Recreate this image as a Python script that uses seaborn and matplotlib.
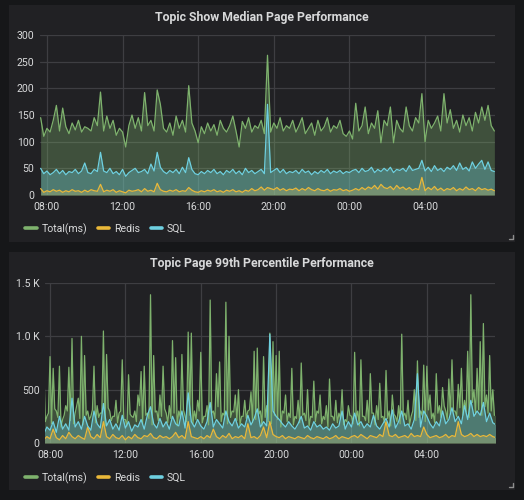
import numpy as np
import pandas as pd
import matplotlib
matplotlib.use("Agg")
import matplotlib.pyplot as plt
import matplotlib.dates as mdates
from matplotlib.patches import Rectangle
from matplotlib.lines import Line2D
import seaborn as sns

# ---------------- data (10-minute samples, 07:40 -> 07:40 next day) ----------------
series_names = ["Total(ms)", "Redis", "SQL"]
series_colors = ["#7eb26d", "#eab839", "#6ed0e0"]

median_total = [
    145, 110, 125, 118, 140, 168, 120, 163, 128, 115,
    135, 122, 140, 118, 128, 125, 120, 145, 130, 193,
    120, 148, 125, 140, 112, 125, 118, 90, 130, 150,
    125, 145, 120, 192, 130, 140, 120, 197, 170, 125,
    118, 135, 112, 148, 125, 140, 118, 205, 135, 120,
    98, 128, 115, 135, 120, 132, 112, 140, 125, 118,
    130, 148, 120, 90, 138, 125, 145, 118, 130, 125,
    140, 115, 262, 118, 135, 125, 145, 120, 130, 125,
    140, 118, 130, 145, 115, 125, 135, 112, 140, 120,
    128, 145, 118, 130, 125, 140, 115, 110, 120, 105,
    172, 120, 130, 165, 115, 135, 125, 158, 98, 140,
    130, 165, 98, 140, 125, 118, 165, 130, 120, 145,
    135, 190, 100, 140, 125, 135, 148, 120, 190, 135,
    160, 125, 140, 118, 150, 130, 145, 120, 155, 135,
    165, 140, 168, 130, 120,
]
median_sql = [
    50, 40, 45, 38, 42, 48, 40, 46, 38, 44,
    42, 48, 40, 45, 60, 42, 40, 48, 44, 80,
    45, 42, 50, 40, 44, 38, 48, 35, 42, 46,
    50, 42, 44, 48, 40, 58, 45, 80, 52, 44,
    40, 46, 42, 48, 40, 52, 42, 70, 48, 40,
    38, 44, 40, 46, 42, 48, 40, 44, 38, 46,
    42, 48, 40, 45, 38, 50, 42, 46, 40, 44,
    48, 40, 170, 42, 46, 50, 42, 48, 40, 44,
    42, 46, 40, 48, 42, 45, 38, 44, 40, 46,
    42, 48, 40, 45, 42, 46, 40, 44, 42, 46,
    48, 42, 50, 44, 46, 52, 42, 48, 44, 50,
    45, 52, 42, 48, 46, 50, 44, 55, 46, 48,
    50, 65, 45, 52, 44, 55, 46, 50, 44, 52,
    48, 55, 46, 60, 48, 52, 45, 62, 50, 58,
    65, 48, 62, 46, 44,
]
median_redis = [
    12, 5, 8, 6, 10, 7, 9, 5, 8, 6,
    10, 7, 8, 5, 9, 6, 10, 8, 7, 20,
    6, 9, 7, 10, 5, 8, 6, 4, 9, 7,
    8, 10, 6, 12, 7, 9, 6, 22, 10, 7,
    6, 9, 7, 10, 6, 8, 7, 14, 9, 6,
    5, 8, 6, 9, 7, 10, 6, 8, 5, 9,
    7, 10, 6, 8, 5, 9, 7, 12, 8, 10,
    15, 9, 14, 12, 10, 14, 9, 12, 8, 11,
    10, 13, 8, 12, 9, 14, 10, 8, 12, 9,
    8, 11, 7, 10, 9, 12, 8, 10, 7, 9,
    12, 9, 14, 10, 15, 12, 18, 11, 20, 14,
    12, 16, 10, 18, 12, 15, 10, 14, 9, 12,
    10, 33, 8, 14, 10, 16, 9, 13, 8, 12,
    10, 14, 8, 12, 9, 15, 10, 12, 8, 14,
    10, 12, 9, 11, 8,
]

# 99th percentile total: on-the-10-minute readings ...
p99_total = [
    730, 250, 810, 700, 300, 720, 220, 350, 710, 980,
    280, 420, 1000, 820, 300, 250, 720, 350, 280, 1050,
    830, 300, 250, 400, 280, 780, 220, 640, 250, 300,
    450, 670, 720, 280, 1390, 820, 300, 450, 720, 280,
    350, 960, 800, 300, 830, 250, 1040, 1030, 300, 400,
    850, 250, 350, 1340, 300, 650, 760, 280, 1320, 1000,
    300, 450, 500, 250, 400, 300, 480, 860, 890, 300,
    810, 350, 1030, 950, 820, 860, 300, 450, 280, 700,
    250, 400, 750, 280, 500, 250, 580, 300, 450, 250,
    350, 600, 250, 400, 280, 500, 220, 350, 250, 850,
    300, 780, 250, 400, 650, 280, 350, 560, 250, 680,
    300, 450, 250, 350, 1020, 280, 400, 250, 500, 770,
    300, 730, 720, 450, 280, 650, 350, 520, 300, 600,
    780, 300, 550, 700, 400, 860, 1390, 500, 700, 950,
    1120, 450, 820, 500, 260,
]
# ... and the readings 5 minutes after each of them
p99_total_mid = [
    200, 280, 180, 320, 240, 150, 260, 300, 210, 180, 350, 230,
    170, 260, 220, 310, 190, 240, 280, 160, 330, 210, 250, 190,
    300, 220, 160, 270, 240, 200, 350, 180, 260, 230, 170, 290,
    210, 250, 320, 190, 230, 280, 160, 240, 310, 200, 260, 180,
    220, 300, 190, 250, 170, 280, 230, 340, 200, 260, 180, 240,
    290, 210, 170, 250, 230, 310, 190, 220, 270, 160, 240, 200,
    180, 260, 220, 150, 280, 200, 240, 170, 230, 190, 260, 210,
    160, 240, 200, 280, 180, 220, 150, 250, 210, 190, 230, 170,
    200, 260, 180, 230, 160, 250, 210, 190, 280, 170, 220, 240,
    190, 230, 160, 270, 200, 180, 250, 220, 170, 300, 210, 240,
    260, 200, 310, 230, 190, 280, 240, 350, 220, 270, 300, 250,
    330, 260, 290, 240, 380, 270, 310, 260, 340, 280, 300, 260,
]
p99_sql = [
    80, 150, 120, 200, 100, 250, 130, 180, 120, 420,
    150, 200, 130, 250, 160, 120, 300, 180, 140, 370,
    160, 220, 130, 180, 120, 260, 140, 200, 110, 170,
    150, 220, 130, 260, 340, 180, 140, 230, 150, 200,
    130, 250, 180, 160, 300, 140, 470, 200, 150, 220,
    160, 130, 200, 380, 150, 220, 180, 140, 300, 200,
    160, 230, 140, 180, 150, 260, 170, 230, 320, 150,
    200, 160, 1020, 300, 250, 220, 180, 150, 200, 160,
    130, 180, 250, 140, 160, 120, 200, 150, 170, 130,
    150, 120, 180, 140, 160, 300, 130, 200, 150, 280,
    170, 200, 140, 180, 150, 260, 160, 130, 180, 230,
    150, 310, 140, 200, 300, 160, 180, 130, 220, 650,
    150, 300, 250, 180, 140, 200, 160, 300, 180, 220,
    330, 200, 250, 180, 350, 220, 400, 250, 300, 260,
    380, 200, 280, 190, 170,
]
p99_redis = [
    30, 60, 40, 130, 50, 30, 70, 40, 100, 60,
    40, 70, 50, 35, 150, 60, 40, 80, 50, 200,
    60, 40, 80, 50, 40, 70, 30, 60, 40, 80,
    50, 40, 70, 60, 90, 50, 40, 70, 50, 60,
    40, 60, 100, 50, 70, 40, 200, 60, 50, 40,
    60, 40, 70, 50, 130, 60, 40, 70, 50, 90,
    40, 60, 50, 70, 40, 180, 50, 60, 40, 70,
    150, 50, 200, 80, 60, 50, 70, 40, 60, 50,
    40, 60, 50, 40, 70, 50, 40, 60, 50, 40,
    60, 40, 50, 70, 40, 60, 50, 40, 60, 70,
    50, 80, 60, 40, 70, 60, 50, 80, 60, 200,
    70, 60, 80, 50, 60, 70, 50, 90, 60, 70,
    60, 150, 80, 50, 60, 70, 50, 60, 80, 50,
    70, 60, 200, 80, 60, 70, 90, 60, 80, 60,
    70, 60, 80, 60, 50,
]

panel_titles = ["Topic Show Median Page Performance", "Topic Page 99th Percentile Performance"]
top_yticks = [0, 50, 100, 150, 200, 250, 300]
bottom_yticks = [0, 500, 1000, 1500]
bottom_yticklabels = ["0", "500", "1.0 K", "1.5 K"]

times = pd.date_range("2018-06-01 07:40", periods=len(median_total), freq="10min")
times_mid = times[:-1] + pd.Timedelta("5min")

# ---------------- styling ----------------
sns.set_theme(style="dark")
plt.rcParams["font.family"] = ["Roboto", "DejaVu Sans"]

PAGE_BG = "#161719"
PANEL_BG = "#212124"
TEXT = "#d8d9da"
GRID = "#3e3e42"

W, H = 524, 500
fig = plt.figure(figsize=(W / 100, H / 100), dpi=100, facecolor=PAGE_BG)


def fx(px):
    return px / W


def fy(py):
    return 1 - py / H


def panel(x0, y0, x1, y1):
    fig.add_artist(Rectangle((fx(x0), fy(y1)), fx(x1 - x0), (y1 - y0) / H,
                             transform=fig.transFigure, facecolor=PANEL_BG,
                             edgecolor="none", zorder=-5))
    # resize handle
    fig.add_artist(Line2D([fx(x1 - 6), fx(x1 - 2), fx(x1 - 2)],
                          [fy(y1 - 3), fy(y1 - 3), fy(y1 - 7)],
                          transform=fig.transFigure, color="#8e8e8e", lw=1.0, zorder=-4))


panel(9, 5, 515, 242)
panel(9, 252, 515, 490)


def draw(ax, frames, xlim, ylim, yticks, yticklabels):
    # frames: list of (series name, times, values)
    long = pd.concat([pd.DataFrame({"time": t, "value": v, "series": n}) for n, t, v in frames])
    long = long.sort_values(["series", "time"])
    for name, col in zip(series_names, series_colors):
        d = long[long["series"] == name]
        ax.fill_between(d["time"], 0, d["value"], color=col, alpha=0.33, lw=0, zorder=2)
    sns.lineplot(data=long, x="time", y="value", hue="series", hue_order=series_names,
                 palette=series_colors, ax=ax, legend=False, linewidth=0.9, zorder=3,
                 estimator=None, sort=True)
    ax.set_facecolor("none")
    ax.set_xlim(xlim)
    ax.set_ylim(ylim)
    ax.set_yticks(yticks)
    ax.set_yticklabels(yticklabels)
    ax.xaxis.set_major_locator(mdates.HourLocator(byhour=[0, 4, 8, 12, 16, 20]))
    ax.xaxis.set_major_formatter(mdates.DateFormatter("%H:%M"))
    ax.set_xlabel("")
    ax.set_ylabel("")
    ax.grid(True, color=GRID, lw=0.9, zorder=1)
    ax.set_axisbelow(True)
    for s in ax.spines.values():
        s.set_visible(False)
    ax.tick_params(axis="both", length=0, colors=TEXT, labelsize=7.6)
    ax.tick_params(axis="y", pad=4)
    ax.tick_params(axis="x", pad=5)


t0 = pd.Timestamp("2018-06-01")
ax1 = fig.add_axes([fx(40), fy(195), fx(495 - 40), 160 / H])
draw(ax1,
     [("Total(ms)", times, median_total), ("Redis", times, median_redis), ("SQL", times, median_sql)],
     (t0 + pd.Timedelta("7h38min"), t0 + pd.Timedelta("1D7h42min")),
     (0, 300), top_yticks, [str(v) for v in top_yticks])

ax2 = fig.add_axes([fx(45), fy(443), fx(495 - 45), 160 / H])
draw(ax2,
     [("Total(ms)", times, p99_total), ("Total(ms)", times_mid, p99_total_mid),
      ("Redis", times, p99_redis), ("SQL", times, p99_sql)],
     (t0 + pd.Timedelta("7h44min"), t0 + pd.Timedelta("1D7h37min")),
     (0, 1500), bottom_yticks, bottom_yticklabels)

fig.text(fx(262), fy(17), panel_titles[0], ha="center", va="center",
         color=TEXT, fontsize=8.8, fontweight=600)
fig.text(fx(262), fy(264), panel_titles[1], ha="center", va="center",
         color=TEXT, fontsize=8.8, fontweight=600)

handles = [Line2D([], [], color=c, lw=2.6) for c in series_colors]
for ax, ly in ((ax1, 229), (ax2, 478)):
    ax.legend(handles, series_names, loc="center left",
              bbox_to_anchor=(fx(25), fy(ly)), bbox_transform=fig.transFigure,
              frameon=False, ncol=3, handlelength=1.1, handletextpad=0.45,
              columnspacing=1.0, borderpad=0, borderaxespad=0,
              fontsize=7.6, labelcolor=TEXT)

fig.savefig("out.png", dpi=100, facecolor=PAGE_BG)
